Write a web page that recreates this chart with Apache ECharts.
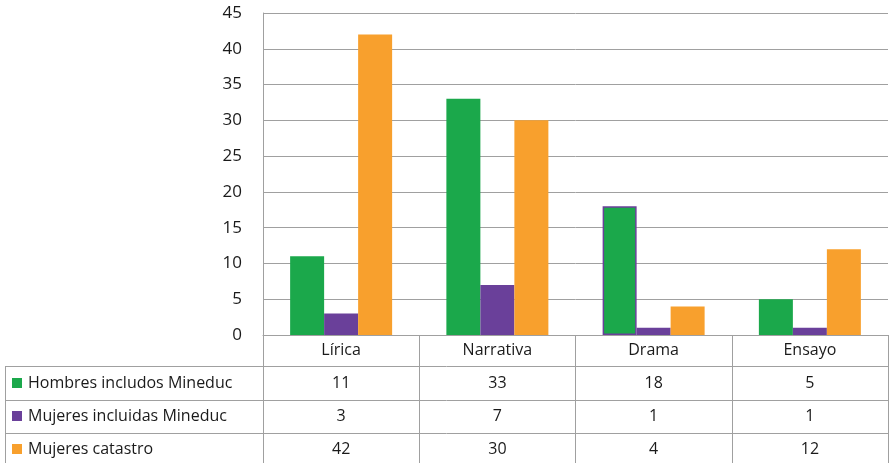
<!DOCTYPE html>
<html><head><meta charset="utf-8">
<script src="https://cdn.jsdelivr.net/npm/echarts@6/dist/echarts.min.js"></script>
<style>html,body{margin:0;padding:0;background:#fff}#c{width:889px;height:463px}</style>
</head><body><div id="c"></div>
<script>
const categories = ['Lírica', 'Narrativa', 'Drama', 'Ensayo'];
const seriesNames = ['Hombres includos Mineduc', 'Mujeres incluidas Mineduc', 'Mujeres catastro'];
const hombresMineduc = [11, 33, 18, 5];
const mujeresMineduc = [3, 7, 1, 1];
const mujeresCatastro = [42, 30, 4, 12];
const yTicks = [0, 5, 10, 15, 20, 25, 30, 35, 40, 45];

const seriesValues = [hombresMineduc, mujeresMineduc, mujeresCatastro];
const colors = ['#1BA84B', '#6A409A', '#F8A02D'];
const FONT = 'Open Sans';
const gridLine = '#A0A0A0';
const textColor = '#1a1a1a';

const chart = echarts.init(document.getElementById('c'), null, {renderer: 'canvas'});
chart.setOption({
  animation: false,
  grid: {left: 263, right: 1, top: 13, bottom: 128},
  xAxis: {
    type: 'category', data: categories,
    axisLine: {show: true, lineStyle: {color: gridLine, width: 1}},
    axisTick: {show: true, length: 131, interval: 0, lineStyle: {color: gridLine, width: 1}},
    axisLabel: {color: textColor, fontFamily: FONT, fontSize: 16, margin: 7}
  },
  yAxis: {
    type: 'value', min: yTicks[0], max: yTicks[yTicks.length - 1], interval: 5,
    axisLine: {show: true, lineStyle: {color: gridLine}},
    axisTick: {show: false},
    splitLine: {lineStyle: {color: gridLine, width: 1}},
    axisLabel: {color: textColor, fontFamily: FONT, fontSize: 17, margin: 21}
  },
  series: seriesValues.map((vals, i) => ({
    name: seriesNames[i], type: 'bar', barWidth: 34, barGap: 0,
    itemStyle: {color: colors[i]},
    data: vals.map((v, j) => (i === 0 && j === 2)
      ? {value: v, itemStyle: {borderColor: colors[1], borderWidth: 1.5}}
      : v)
  }))
});

function buildTable() {
  const rowLines = [366, 400, 433];
  const rowCenters = [383, 416, 449];
  const g = [];
  const right = 888;
  rowLines.forEach(y => g.push({type: 'line', shape: {x1: 5, y1: y + 0.5, x2: right, y2: y + 0.5},
    style: {stroke: gridLine, lineWidth: 1}, silent: true}));
  g.push({type: 'line', shape: {x1: 5.5, y1: rowLines[0], x2: 5.5, y2: 463},
    style: {stroke: gridLine, lineWidth: 1}, silent: true});
  seriesNames.forEach((name, i) => {
    g.push({type: 'rect', shape: {x: 12, y: rowCenters[i] - 5, width: 10, height: 10},
      style: {fill: colors[i]}, silent: true});
    g.push({type: 'text', x: 28, y: rowCenters[i],
      style: {text: name, fill: textColor, font: '16px "' + FONT + '"', textVerticalAlign: 'middle', textAlign: 'left'}, silent: true});
    seriesValues[i].forEach((v, j) => {
      const px = chart.convertToPixel({xAxisIndex: 0}, categories[j]);
      g.push({type: 'text', x: px, y: rowCenters[i],
        style: {text: String(v), fill: textColor, font: '16px "' + FONT + '"', textAlign: 'center', textVerticalAlign: 'middle'}, silent: true});
    });
  });
  chart.setOption({graphic: g});
}
buildTable();
</script></body></html>
